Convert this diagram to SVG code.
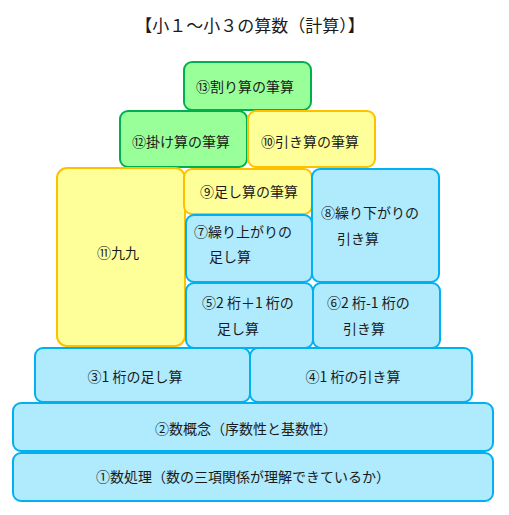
<svg xmlns="http://www.w3.org/2000/svg" width="509" height="515" viewBox="0 0 509 515">
<style>
text{font-family:"Noto Sans CJK JP","Noto Sans CJK SC",sans-serif;font-size:14px;fill:#1a1a1a}
.t{text-anchor:middle}
.g{fill:#99FF99;stroke:#00B050;stroke-width:2}
.y{fill:#FFFF99;stroke:#FFC000;stroke-width:2}
.b{fill:#AFEAFD;stroke:#00B0F0;stroke-width:2}
.title{font-size:17px;text-anchor:middle}
</style>
<rect width="509" height="515" fill="#fff"/>
<text class="title" x="250" y="32">【小１～小３の算数（計算）】</text>
<g id="n13"><rect class="g" x="184" y="62" width="127" height="48" rx="8"/><text class="t" x="245" y="92">⑬割り算の筆算</text></g>
<g id="n12"><rect class="g" x="120" y="111" width="127" height="56" rx="8"/><text class="t" x="181" y="147">⑫掛け算の筆算</text></g>
<g id="n10"><rect class="y" x="248" y="111" width="127" height="56" rx="8"/><text class="t" x="310" y="147">⑩引き算の筆算</text></g>
<g id="n11"><rect class="y" x="57" y="168" width="128" height="178" rx="10"/><text class="t" x="118" y="258">⑪九九</text></g>
<g id="n9"><rect class="y" x="184" y="169" width="128" height="45" rx="8"/><text class="t" x="249" y="197">⑨足し算の筆算</text></g>
<g id="n8"><rect class="b" x="312" y="169" width="127" height="113" rx="8"/><text x="321" y="218">⑧繰り下がりの</text><text x="337" y="244">引き算</text></g>
<g id="n7"><rect class="b" x="186" y="215" width="126" height="67" rx="8"/><text x="194" y="237">⑦繰り上がりの</text><text x="209" y="262">足し算</text></g>
<g id="n5"><rect class="b" x="186" y="283" width="127" height="65" rx="8"/><text x="202" y="308">⑤2 桁＋1 桁の</text><text x="217" y="334">足し算</text></g>
<g id="n6"><rect class="b" x="313" y="283" width="127" height="65" rx="8"/><text x="327" y="308">⑥2 桁-1 桁の</text><text x="343" y="334">引き算</text></g>
<g id="n3"><rect class="b" x="35" y="348" width="215" height="54" rx="8"/><text class="t" x="135" y="382">③1 桁の足し算</text></g>
<g id="n4"><rect class="b" x="250" y="348" width="222" height="54" rx="8"/><text class="t" x="353" y="382">④1 桁の引き算</text></g>
<g id="n2"><rect class="b" x="13" y="403" width="480" height="48" rx="8"/><text class="t" x="246" y="434">②数概念（序数性と基数性）</text></g>
<g id="n1"><rect class="b" x="13" y="453" width="480" height="48" rx="8"/><text class="t" x="243" y="482">①数処理（数の三項関係が理解できているか）</text></g>
<g id="connectors"></g>
</svg>
